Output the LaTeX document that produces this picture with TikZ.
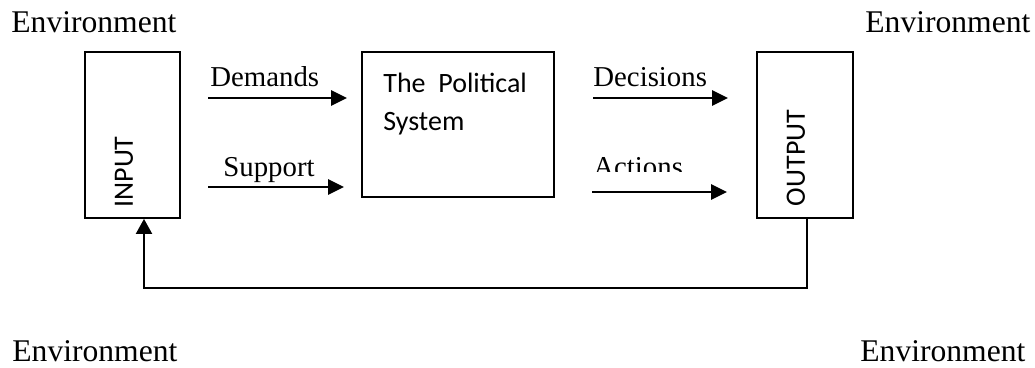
\documentclass[tikz,border=0pt]{standalone}
\usepackage{fontspec}
\setmainfont{Liberation Serif}
\newfontfamily\calibri{Carlito}
\usetikzlibrary{arrows.meta}

\begin{document}
\begin{tikzpicture}[x=0.5pt, y=-0.5pt,
            block/.style={draw=black, line width=0.9pt, inner sep=0pt},
            flow/.style={-{Triangle[length=8pt, width=7.5pt]}, line width=1.4pt},
            loopline/.style={-{Triangle[length=7.5pt, width=8pt]}, line width=1pt},
            env/.style={font=\fontsize{15.8}{19}\selectfont, inner sep=0pt, anchor=base west},
            lbl/.style={font=\fontsize{14.4}{17}\selectfont, inner sep=0pt, anchor=base west},
            side/.style={font=\calibri\fontsize{14}{17}\selectfont, inner sep=0pt, rotate=90}
        ]
            \useasboundingbox (0,0) rectangle (1035,368);

            % environment corners
            \node[env] (envtl) at (11,33) {Environment};
            \node[env] (envtr) at (865,33) {Environment};
            \node[env] (envbl) at (12,362) {Environment};
            \node[env] (envbr) at (860,362) {Environment};

            % boxes
            \node[block, minimum width=47.5pt, minimum height=83pt] (inp) at (132.5,135) {};
            \node[block, minimum width=96pt, minimum height=72.5pt] (pol) at (458,124.5) {};
            \node[block, minimum width=48pt, minimum height=83pt] (out) at (805,135) {};

            \node[side] (inptext) at (124,172) {INPUT};
            \node[side] (outtext) at (796,158) {OUTPUT};
            \node[font=\calibri\fontsize{14}{19}\selectfont, inner sep=0pt, align=left, anchor=north west] (poltext) at (383,73) {The\ \ Political\\System};

            % flows
            \coordinate (dem1) at (208,98);
            \coordinate (dem2) at (347,98);
            \coordinate (sup1) at (208,187);
            \coordinate (sup2) at (344,187);
            \coordinate (dec1) at (593,98);
            \coordinate (dec2) at (728,98);
            \coordinate (act1) at (592,192);
            \coordinate (act2) at (727,192);

            \node[lbl] (demlbl) at (210,87) {Demands};
            \node[lbl] (suplbl) at (223,177) {Support};
            \node[lbl] (declbl) at (593,87) {Decisions};
            \begin{scope}
                \clip (580,140) rectangle (700,172);
                \node[lbl] (actlbl) at (593,177) {Actions};
            \end{scope}

            \draw[flow] (dem1) -- (dem2);
            \draw[flow] (sup1) -- (sup2);
            \draw[flow] (dec1) -- (dec2);
            \draw[flow] (act1) -- (act2);

            % feedback
            \coordinate (loop) at (470,288);
            \draw[loopline] ([xshift=1pt]out.south) |- (loop) -| ([xshift=5.75pt]inp.south);
        \end{tikzpicture}
\end{document}
